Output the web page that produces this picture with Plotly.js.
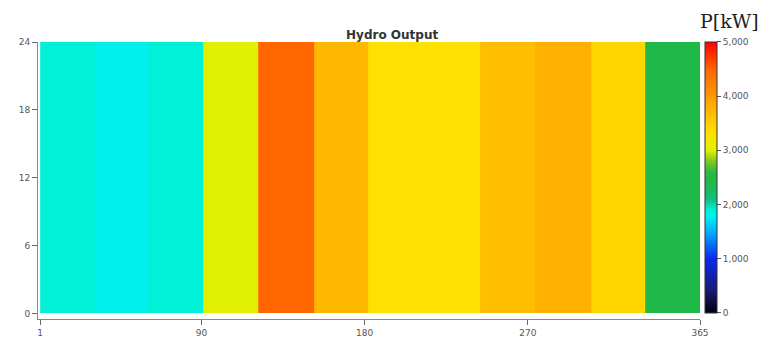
<!DOCTYPE html>
<html>
<head>
<meta charset="utf-8">
<script src="https://cdn.plot.ly/plotly-3.0.1.min.js"></script>
<style>html,body{margin:0;padding:0;background:#fff;}#chart{width:764px;height:343px;}</style>
</head>
<body>
<div id="chart"></div>
<script>
// Monthly hydro output (kW), constant across all 24 hours of each day
const months = ["Jan","Feb","Mar","Apr","May","Jun","Jul","Aug","Sep","Oct","Nov","Dec"];
const monthDays = [31,28,31,30,31,30,31,31,30,31,30,31];
const hydroKW = [1900,1780,1900,3000,4500,3700,3300,3300,3650,3800,3450,2400];
const hourEdges = [0,24];
const xTickVals = [1,90,180,270,365];
const yTickVals = [0,6,12,18,24];
const cbTickVals = [0,1000,2000,3000,4000,5000];

// day-of-year edges of each month
const dayEdges = [1];
monthDays.forEach(d => dayEdges.push(dayEdges[dayEdges.length-1] + d));

const colorscale = [
  [0.00,"#000010"],[0.08,"#1a1a70"],[0.20,"#0a28f0"],[0.30,"#00b0ff"],
  [0.356,"#00f0f0"],[0.38,"#00f0d8"],[0.42,"#10c080"],[0.48,"#20b848"],
  [0.52,"#30b840"],[0.56,"#80c820"],[0.60,"#e0f000"],[0.66,"#ffe000"],
  [0.69,"#ffd500"],[0.73,"#ffbe00"],[0.74,"#ffb800"],[0.76,"#ffb000"],
  [0.80,"#ff9900"],[0.90,"#ff6600"],[1.00,"#ff0000"]
];

const tickFont = {family:"DejaVu Sans, Verdana, sans-serif", size:9, color:"#555"};

const trace = {
  type:"heatmap",
  x: dayEdges,
  y: hourEdges,
  z: [hydroKW],
  zmin:0, zmax:5000,
  colorscale: colorscale,
  hoverinfo:"skip",
  colorbar:{
    x:1.0076, xanchor:"left", xpad:0, ypad:0,
    y:0.022, yanchor:"bottom", len:0.978, lenmode:"fraction",
    thickness:12, outlinewidth:1, outlinecolor:"#333",
    tickvals:cbTickVals, tickformat:",d", ticks:"outside", ticklen:4,
    tickcolor:"#555", tickfont:tickFont
  }
};

const layout = {
  width:764, height:343,
  margin:{l:38, r:64, t:42, b:24},
  paper_bgcolor:"#fff", plot_bgcolor:"#fff",
  title:{text:"Hydro Output", font:{family:"DejaVu Sans, Verdana, sans-serif", size:12, color:"#333", weight:"bold"},
    x:0.535, xanchor:"center", y:0.885, yanchor:"bottom", xref:"paper"},
  xaxis:{range:[-0.2,365], tickvals:xTickVals, ticks:"outside", ticklen:5, tickcolor:"#666",
    showline:true, linecolor:"#888", linewidth:1, showgrid:false, zeroline:false, tickfont:tickFont},
  yaxis:{range:[-0.5,24], tickvals:yTickVals, ticks:"outside", ticklen:5, tickcolor:"#666",
    showline:true, linecolor:"#888", linewidth:1, showgrid:false, zeroline:false, tickfont:tickFont},
  annotations:[{text:"P[kW]", xref:"paper", yref:"paper", x:1.092, y:1.075, xanchor:"right", yanchor:"middle",
    showarrow:false, font:{family:"DejaVu Serif, Liberation Serif, serif", size:19, color:"#222"}}]
};

Plotly.newPlot("chart",[trace],layout,{displayModeBar:false, staticPlot:true});
</script>
</body>
</html>
